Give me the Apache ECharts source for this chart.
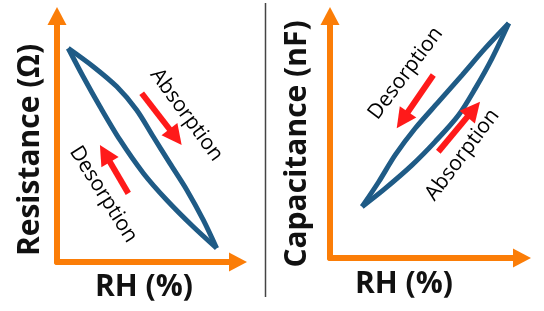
<!DOCTYPE html>
<html>
<head>
<meta charset="utf-8">
<script src="https://cdn.jsdelivr.net/npm/echarts@6/dist/echarts.min.js"></script>
<style>
  html, body { margin: 0; padding: 0; background: #fff; }
  #main { width: 544px; height: 311px; }
</style>
</head>
<body>
<div id="main"></div>
<script>
// left panel: resistance vs RH, axis units 0..100 (no ticks shown)
const resAbsorption = [[6.2, 86.9], [20.1, 79.4], [33.0, 71.3], [44.0, 61.8], [53.2, 50.9], [62.4, 40.1], [71.7, 29.3], [80.8, 17.1], [88.2, 5.6]];
const resDesorption = [[6.2, 86.9], [14.5, 75.3], [23.8, 63.1], [34.8, 49.6], [47.7, 36.1], [60.6, 25.2], [75.3, 14.3], [88.2, 5.6]];
// right panel: capacitance vs RH
const capDesorption = [[16.7, 21.2], [25.4, 31.5], [34.0, 42.6], [44.4, 53.6], [56.6, 64.6], [68.8, 75.6], [80.9, 86.7], [93.1, 97.0]];
const capAbsorption = [[16.7, 21.2], [28.8, 28.8], [42.7, 38.4], [54.8, 48.1], [67.0, 59.1], [75.7, 70.1], [84.4, 82.5], [93.1, 97.0]];
// red direction arrows: [tail, head]
const resArrows = [[[46.8, 68.6], [65.5, 50.8]], [[39.4, 27.9], [26.5, 44.1]]];
const capArrows = [[[53.8, 75.6], [37.7, 57.0]], [[56.4, 43.9], [74.8, 61.4]]];
// rotated notes: [x, y, text, angle]
const resNotes = [[71.5, 59.8, 'Absorption', -54], [25.6, 27.5, 'Desorption', -58]];
const capNotes = [[39.4, 76.3, 'Desorption', 53], [68.9, 42.6, 'Absorption', 53]];

const axisTitles = ['Resistance (Ω)', 'Capacitance (nF)', 'RH (%)'];

const orange = '#fb7d07';
const blue = '#1f5b86';
const red = '#ff1a1a';

const myChart = echarts.init(document.getElementById('main'));

function makeAxis(idx) {
  return {
    type: 'value', min: 0, max: 100, gridIndex: idx,
    axisLine: {
      show: true, onZero: false,
      lineStyle: { color: orange, width: 6 },
      symbol: ['none', 'triangle'], symbolSize: [19, 18]
    },
    axisTick: { show: false },
    axisLabel: { show: false },
    splitLine: { show: false }
  };
}

function loop(data, idx) {
  return {
    type: 'line', data: data, xAxisIndex: idx, yAxisIndex: idx,
    smooth: 0.3, showSymbol: false, symbol: 'none',
    lineStyle: { color: blue, width: 5 },
    z: 3
  };
}

function arrows(list, idx) {
  return {
    type: 'lines', coordinateSystem: 'cartesian2d', xAxisIndex: idx, yAxisIndex: idx,
    data: list.map(a => ({ coords: a })),
    symbol: ['none', 'triangle'], symbolSize: [17, 20],
    lineStyle: { color: red, width: 6, opacity: 1 },
    z: 4
  };
}

function notes(list, idx) {
  return {
    type: 'scatter', xAxisIndex: idx, yAxisIndex: idx, symbolSize: 0,
    itemStyle: { opacity: 1 },
    data: list.map(n => ({
      value: [n[0], n[1]],
      label: { rotate: n[3], formatter: n[2] }
    })),
    label: {
      show: true, position: 'inside',
      fontFamily: 'Open Sans', fontSize: 21, color: '#000',
      textBorderWidth: 0, opacity: 1
    },
    z: 5
  };
}

const titleStyle = { fontFamily: 'Open Sans', fontWeight: 'bold', fontSize: 30, fill: '#111', align: 'center', verticalAlign: 'middle' };

myChart.setOption({
  animation: false,
  grid: [
    { left: 57, top: 16, width: 181, height: 246 },
    { left: 330, top: 16, width: 192, height: 242 }
  ],
  xAxis: [makeAxis(0), makeAxis(1)],
  yAxis: [makeAxis(0), makeAxis(1)],
  series: [
    loop(resAbsorption, 0), loop(resDesorption, 0),
    loop(capDesorption, 1), loop(capAbsorption, 1),
    arrows(resArrows, 0), arrows(capArrows, 1),
    notes(resNotes, 0), notes(capNotes, 1)
  ],
  graphic: [
    { type: 'line', shape: { x1: 265.5, y1: 3, x2: 265.5, y2: 297 }, style: { stroke: '#444', lineWidth: 1.5 } },
    { type: 'text', x: 30, y: 150, rotation: Math.PI / 2, style: Object.assign({ text: axisTitles[0] }, titleStyle) },
    { type: 'text', x: 297, y: 144, rotation: Math.PI / 2, style: Object.assign({ text: axisTitles[1] }, titleStyle) },
    { type: 'text', x: 144, y: 287, style: Object.assign({ text: axisTitles[2] }, titleStyle) },
    { type: 'text', x: 404, y: 284, style: Object.assign({ text: axisTitles[2] }, titleStyle) }
  ]
});
</script>
</body>
</html>
